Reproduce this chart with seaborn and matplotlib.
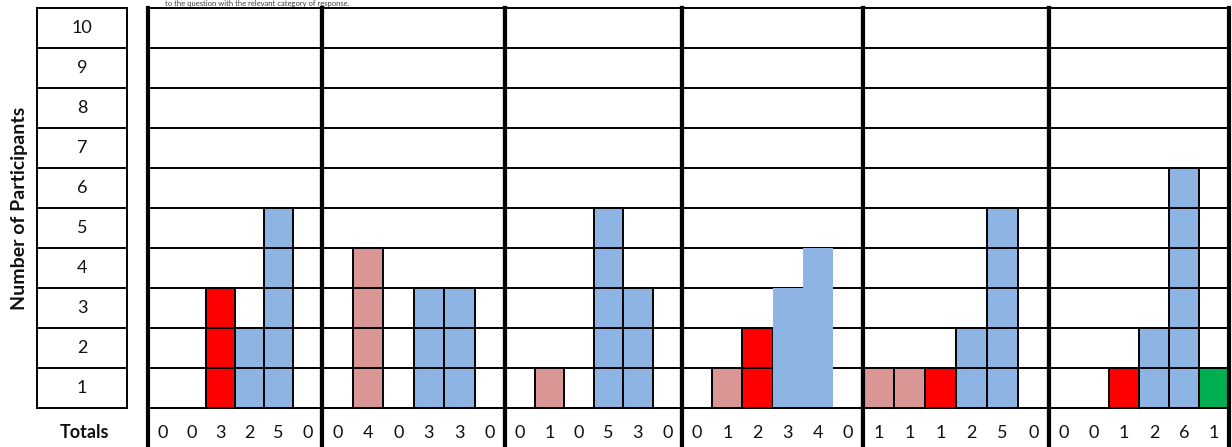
import matplotlib
matplotlib.use("Agg")
import matplotlib.pyplot as plt
import seaborn as sns

# ---------------- data ----------------
categories = ["c1", "c2", "c3", "c4", "c5", "c6"]
cat_colors = ["#D99694", "#D99694", "#FF0000", "#8EB4E3", "#8EB4E3", "#00B050"]
row_labels = [10, 9, 8, 7, 6, 5, 4, 3, 2, 1]

totals_q1 = [0, 0, 3, 2, 5, 0]
totals_q2 = [0, 4, 0, 3, 3, 0]
totals_q3 = [0, 1, 0, 5, 3, 0]
totals_q4 = [0, 1, 2, 3, 4, 0]
totals_q5 = [1, 1, 1, 2, 5, 0]
totals_q6 = [0, 0, 1, 2, 6, 1]
panels = [totals_q1, totals_q2, totals_q3, totals_q4, totals_q5, totals_q6]

y_title = "Number of Participants"
totals_label = "Totals"
top_note = "to the question with the relevant category of response."

# ---------------- style ----------------
sns.set_theme(style="white")
plt.rcParams["font.family"] = ["Lato", "DejaVu Sans"]

W, H = 1232, 447
fig = plt.figure(figsize=(W / 100, H / 100), dpi=100)
fig.patch.set_facecolor("white")


def fx(px):
    return px / W


def fy(py):
    return 1 - py / H


GRID_LW = 1.4
THICK_LW = 3.0
ROW_PX = 40
TOP_PX = 8
BOTTOM_ROW_PX = 408

# panel boundaries in pixels
bounds = [148, 322, 505, 682, 863, 1049, 1229]
# cells without unit-cell outlines (merged look in the original)
no_outline = {(3, 3), (3, 4)}

ymin = 10 - (H - TOP_PX) / ROW_PX

for p, totals in enumerate(panels):
    x0, x1 = bounds[p], bounds[p + 1]
    ax = fig.add_axes([fx(x0), 0, fx(x1) - fx(x0), (H - TOP_PX) / H])
    ax.hlines(range(1, 10), -0.5, 5.5, color="black", lw=GRID_LW, zorder=1)
    ax.hlines([0], -0.5, 5.5, color="black", lw=GRID_LW, zorder=4)
    sns.barplot(x=categories, y=totals, hue=categories, order=categories,
                hue_order=categories, palette=cat_colors, saturation=1,
                width=1, edgecolor="black", linewidth=GRID_LW, legend=False,
                ax=ax, zorder=2)
    for i, (patch, v) in enumerate(zip(ax.patches, totals)):
        if (p, i) in no_outline:
            patch.set_edgecolor("none")
        elif v > 1:
            ax.hlines(range(1, v), i - 0.5, i + 0.5, color="black",
                      lw=GRID_LW, zorder=3)
        ax.text(i, -0.62, str(v), ha="center", va="center", fontsize=13,
                color="#111111")
    ax.set_xlim(-0.5, 5.5)
    ax.set_ylim(ymin, 10)
    ax.set_xlabel("")
    ax.set_ylabel("")
    ax.set_xticks([])
    ax.set_yticks([])
    ax.set_facecolor("white")
    for side in ["left", "right"]:
        ax.spines[side].set_linewidth(THICK_LW)
        ax.spines[side].set_color("black")
        ax.spines[side].set_zorder(5)
    ax.spines["top"].set_linewidth(GRID_LW)
    ax.spines["top"].set_color("black")
    ax.spines["bottom"].set_visible(False)

# left label table
lax = fig.add_axes([fx(37), fy(BOTTOM_ROW_PX), fx(127) - fx(37),
                    (BOTTOM_ROW_PX - TOP_PX) / H])
lax.set_xlim(0, 1)
lax.set_ylim(0, 10)
lax.hlines(range(1, 10), 0, 1, color="black", lw=GRID_LW)
for v in row_labels:
    lax.text(0.5, v - 0.5, str(v), ha="center", va="center", fontsize=13,
             color="#111111")
lax.set_xticks([])
lax.set_yticks([])
for s in lax.spines.values():
    s.set_linewidth(GRID_LW)
    s.set_color("black")

fig.text(fx(84), fy(433), totals_label, ha="center", va="center",
         fontsize=13, fontweight="bold", color="#111111")
fig.text(fx(20), fy(208), y_title, ha="center", va="center", rotation=90,
         fontsize=14, fontweight="bold", color="#111111")
fig.text(fx(165), fy(7), top_note, ha="left", va="bottom", fontsize=5.5,
         color="#404040")

fig.savefig("out.png", dpi=100, facecolor="white")
